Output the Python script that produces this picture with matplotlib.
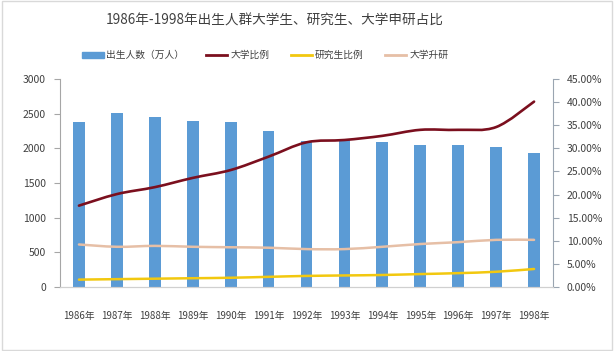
import numpy as np
import matplotlib
matplotlib.use('Agg')
import matplotlib.pyplot as plt
from matplotlib.path import Path
from matplotlib.patches import PathPatch, Rectangle
from matplotlib.lines import Line2D
from matplotlib.ticker import FuncFormatter

plt.rcParams['font.family'] = ['Noto Sans CJK SC', 'DejaVu Sans']

years = ['1986年', '1987年', '1988年', '1989年', '1990年', '1991年', '1992年',
         '1993年', '1994年', '1995年', '1996年', '1997年', '1998年']
births = [2380, 2505, 2455, 2392, 2380, 2252, 2105, 2120, 2090, 2050, 2050, 2020, 1932]
college = [17.6, 20.1, 21.6, 23.6, 25.3, 28.2, 31.3, 31.8, 32.7, 34.0, 34.0, 34.6, 40.1]
grad = [1.6, 1.7, 1.8, 1.9, 2.0, 2.2, 2.4, 2.5, 2.6, 2.8, 3.0, 3.3, 3.9]
promote = [9.2, 8.7, 8.9, 8.7, 8.6, 8.5, 8.2, 8.2, 8.7, 9.3, 9.7, 10.2, 10.2]

c_bar = '#5b9bd5'
c_college = '#7b0f1e'
c_grad = '#f2c80f'
c_promote = '#e6bfa6'
c_axis = '#9aa5b1'
c_text = '#404040'


def smooth_path(xs, ys):
    # Excel-like smoothed line: Catmull-Rom converted to cubic Bezier
    pts = np.column_stack([xs, ys]).astype(float)
    n = len(pts)
    verts = [pts[0]]
    codes = [Path.MOVETO]
    for i in range(n - 1):
        p0 = pts[max(i - 1, 0)]
        p1 = pts[i]
        p2 = pts[i + 1]
        p3 = pts[min(i + 2, n - 1)]
        verts += [p1 + (p2 - p0) / 6, p2 - (p3 - p1) / 6, p2]
        codes += [Path.CURVE4] * 3
    return Path(verts, codes)


fig = plt.figure(figsize=(6.14, 3.51), dpi=100)
fig.patches.append(Rectangle((0.003, 0.003), 0.994, 0.994, transform=fig.transFigure,
                             fill=False, edgecolor='#d9d9d9', linewidth=1))
ax = fig.add_axes([0.0977, 0.1823, 0.803, 0.5927])
x = np.arange(len(years))
ax.bar(x, births, width=0.31, color=c_bar, zorder=1)
ax.set_xlim(-0.5, len(years) - 0.5)
ax.set_ylim(0, 3000)
ax.set_yticks(range(0, 3001, 500))

ax2 = ax.twinx()
ax2.set_ylim(0, 45)
ax2.set_yticks(np.arange(0, 46, 5))
ax2.yaxis.set_major_formatter(FuncFormatter(lambda v, p: f'{v:.2f}%'))

for ys, col, lw in [(promote, c_promote, 1.8), (grad, c_grad, 1.8), (college, c_college, 1.9)]:
    ax2.add_patch(PathPatch(smooth_path(x, ys), fill=False, edgecolor=col, linewidth=lw,
                            capstyle='round', zorder=3))

for a in (ax, ax2):
    a.spines['top'].set_visible(False)
    a.spines['bottom'].set_color('#d0d0d0')
ax.spines['right'].set_visible(False)
ax2.spines['left'].set_visible(False)
ax.spines['left'].set_color('#a6a6a6')
ax2.spines['right'].set_color(c_axis)
ax.tick_params(axis='y', direction='out', length=4, color='#a6a6a6', labelsize=7.5,
               labelcolor=c_text, pad=6)
ax2.tick_params(axis='y', direction='out', length=4, color=c_axis, labelsize=7.5,
                labelcolor=c_text, pad=6)
ax.set_xticks(x)
ax.set_xticklabels(years)
ax.tick_params(axis='x', length=0, labelsize=7, labelcolor=c_text, pad=17)

fig.text(0.448, 0.94, '1986年-1998年出生人群大学生、研究生、大学申研占比', ha='center', va='center',
         fontsize=9.8, color=c_text)

handles = [Rectangle((0, 0), 1, 1, color=c_bar),
           Line2D([], [], color=c_college, linewidth=2),
           Line2D([], [], color=c_grad, linewidth=2),
           Line2D([], [], color=c_promote, linewidth=2)]
labels = ['出生人数（万人）', '大学比例', '研究生比例', '大学升研']
fig.legend(handles, labels, loc='center', bbox_to_anchor=(0.432, 0.843), ncol=4,
           frameon=False, fontsize=7, labelcolor=c_text, handlelength=2.2,
           handleheight=0.6, handletextpad=0.3, columnspacing=2.2)

plt.savefig('out.png', dpi=100)
